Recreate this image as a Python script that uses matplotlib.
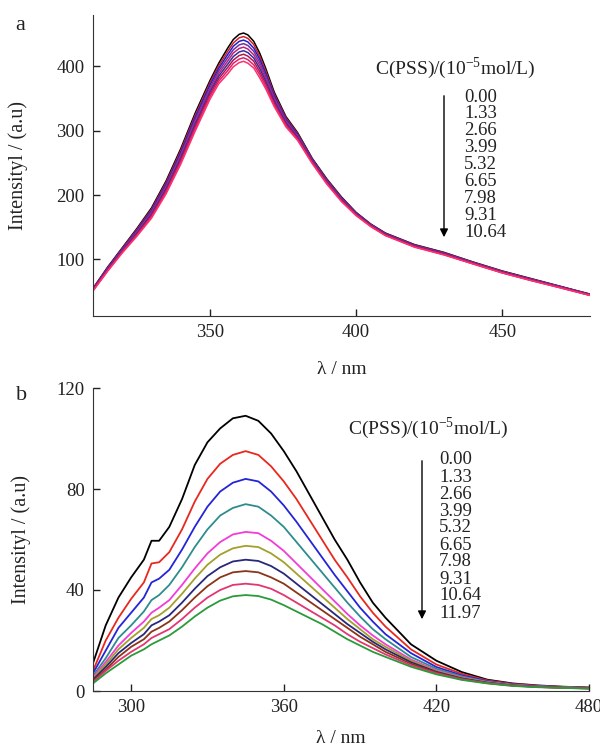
import matplotlib
matplotlib.use("Agg")
import matplotlib.pyplot as plt

plt.rcParams['font.family'] = ['Liberation Serif', 'DejaVu Serif']
plt.rcParams['mathtext.fontset'] = 'custom'
plt.rcParams['mathtext.rm'] = 'Liberation Serif'

# ---- panel a data ----
wl_a = [310, 315, 320, 325, 330, 335, 340, 345, 350, 353, 356, 358, 360, 361.5, 363, 365, 367,
        369, 372, 376, 380, 385, 390, 395, 400, 405, 410, 420, 430, 440, 450, 460, 470, 480]
conc_a = ['0.00', '1.33', '2.66', '3.99', '5.32', '6.65', '7.98', '9.31', '10.64']
int_a0 = [55, 88, 118, 148, 180, 222, 272, 328, 378, 405, 428, 442, 450, 452, 449, 439, 421, 398, 360, 322, 297, 257, 225, 197, 173, 155, 141, 123, 111, 96, 82, 70, 58, 46]
int_a1 = [54.5, 87, 117, 146.5, 178, 219.5, 269, 324.5, 374.5, 401, 423, 436.5, 444.5, 446.5, 443.5, 434, 416, 394, 357, 320, 295.5, 256, 224, 196, 172.5, 154.5, 140.5, 122.5, 110.5, 95.5, 81.5, 69.5, 57.5, 46]
int_a2 = [54, 86.5, 116, 145, 176, 217, 266, 321, 371, 397, 418, 431.5, 439, 441, 438, 428.5, 411.5, 390, 354.5, 318, 294, 255, 223, 195, 172, 154, 140, 122, 110, 95, 81, 69, 57.5, 45.5]
int_a3 = [53.5, 85.5, 115, 143.5, 174, 214.5, 263, 317.5, 367, 393, 413, 426, 433.5, 435.5, 432.5, 423.5, 406.5, 386, 351.5, 316, 292.5, 254, 222, 194.5, 171, 153.5, 139.5, 121.5, 109.5, 95, 81, 69, 57, 45]
int_a4 = [53, 85, 114, 142, 172, 212, 260, 314, 363.5, 389, 408, 421, 428, 430, 427, 418, 402, 382, 349, 314, 291, 253, 221, 193.5, 170.5, 153, 139, 121, 109, 94.5, 80.5, 68.5, 57, 45]
int_a5 = [52.5, 84, 113, 140.5, 170, 209.5, 257, 310.5, 360, 385, 403, 415.5, 422.5, 424.5, 421.5, 413, 397, 378, 346, 312, 289.5, 252, 220, 192.5, 170, 152.5, 138.5, 120.5, 108.5, 94, 80, 68, 56.5, 44.5]
int_a6 = [52, 83, 112, 139, 168, 207, 254, 307, 356.5, 381, 398, 410, 417, 419, 416, 408, 392, 374, 343, 310, 288, 251, 219, 191.5, 169.5, 152, 138, 120, 108, 93.5, 79.5, 67.5, 56, 44.5]
int_a7 = [51.5, 82.5, 111, 137.5, 166, 204.5, 251, 303.5, 353, 377, 393, 405, 411.5, 413.5, 410.5, 402.5, 387.5, 370, 340.5, 308, 286.5, 250, 218, 190.5, 169, 151.5, 137.5, 119.5, 107.5, 93, 79, 67, 56, 44]
int_a8 = [51, 81.5, 110, 136, 164, 202, 248, 300, 349, 373, 388, 399.5, 406, 408, 405, 397.5, 382.5, 366, 337.5, 306, 285, 249, 217, 190, 168, 151, 137, 119, 107, 93, 79, 67, 55.5, 44]
curves_a = [int_a0, int_a1, int_a2, int_a3, int_a4, int_a5, int_a6, int_a7, int_a8]
colors_a = ['black', '#d42020', '#2020c8', '#7030a0', '#c02080', '#3030a0', '#b01850', '#e0206a', '#ff3070']

# ---- panel b data ----
wl_b = [285, 290, 295, 300, 305, 308, 311, 315, 320, 325, 330, 335, 340, 345, 350, 355, 360,
        365, 370, 375, 380, 385, 390, 395, 400, 410, 420, 430, 440, 450, 460, 470, 480]
conc_b = ['0.00', '1.33', '2.66', '3.99', '5.32', '6.65', '7.98', '9.31', '10.64', '11.97']
int_b0 = [11, 26, 37, 45, 52, 59.5, 59.5, 65, 76, 89.5, 98.5, 104, 108, 109, 107, 102, 95, 87, 78, 69, 60, 52, 43, 35, 29, 18.5, 12, 7.5, 4.5, 3, 2.2, 1.7, 1.4]
int_b1 = [8, 20, 29, 36.5, 43, 50.5, 51, 55, 64, 75, 84, 90, 93.5, 95, 93.5, 89, 83, 76, 68, 60, 52, 45, 37.5, 31, 25.5, 16.5, 10.5, 6.8, 4.2, 2.8, 2.1, 1.6, 1.3]
int_b2 = [7, 16, 25, 31, 37, 43, 44.5, 48, 56, 65, 73, 79, 82.5, 84, 83, 79, 73.5, 67, 60, 53, 46, 39.5, 33, 27.5, 22.5, 15, 9.5, 6.2, 3.9, 2.6, 2, 1.5, 1.2]
int_b3 = [6, 13, 21, 26, 31.5, 36, 38, 42, 49, 57, 64, 69.5, 72.5, 74, 73, 69.5, 65, 59, 53, 47, 41, 35, 29.5, 24.5, 20.5, 13.5, 8.8, 5.8, 3.7, 2.5, 1.9, 1.5, 1.2]
int_b4 = [5.5, 11.5, 18, 23, 27.5, 31, 33, 36, 42, 48.5, 54.5, 59, 62, 63, 62.5, 59.5, 55.5, 50.5, 45.5, 40.5, 35.5, 30.5, 26, 22, 18.5, 12.5, 8.2, 5.4, 3.5, 2.4, 1.8, 1.4, 1.1]
int_b5 = [5, 10.5, 16.5, 21, 25, 28.5, 30, 33, 38.5, 44.5, 50, 54, 56.5, 57.5, 57, 54.5, 51, 46.5, 42, 37.5, 33, 28.5, 24.5, 20.5, 17.5, 12, 7.9, 5.2, 3.4, 2.3, 1.7, 1.4, 1.1]
int_b6 = [4.5, 9.5, 15, 19, 22.5, 26, 27.5, 30, 35, 40.5, 45.5, 49, 51.3, 52, 51.5, 49.5, 46.5, 42.5, 38.5, 34.5, 30.5, 26.5, 23, 19.5, 16.5, 11.4, 7.6, 5, 3.3, 2.2, 1.7, 1.3, 1.1]
int_b7 = [4, 8.5, 13.5, 17.5, 20.5, 23.5, 25, 27.5, 32, 37, 41.5, 45, 47, 47.5, 47, 45, 42.5, 39, 35.5, 32, 28.5, 25, 21.5, 18.5, 15.5, 10.8, 7.3, 4.8, 3.2, 2.2, 1.6, 1.3, 1.0]
int_b8 = [3.5, 8, 12, 15.5, 18.5, 21, 22.5, 24.5, 28.5, 33, 37, 40, 42, 42.5, 42, 40.5, 38, 35, 32, 29, 26, 22.5, 19.5, 17, 14.5, 10.2, 7, 4.6, 3.1, 2.1, 1.6, 1.2, 1.0]
int_b9 = [3, 7, 10.5, 14, 16.5, 18.5, 20, 22, 25.5, 29.5, 33, 35.8, 37.5, 38, 37.6, 36.2, 34, 31.5, 29, 26.5, 23.5, 20.5, 18, 15.5, 13.5, 9.6, 6.6, 4.4, 3, 2, 1.5, 1.2, 1.0]
curves_b = [int_b0, int_b1, int_b2, int_b3, int_b4, int_b5, int_b6, int_b7, int_b8, int_b9]
colors_b = ['black', '#e8281e', '#2424d8', '#2e8c8c', '#f23cd8', '#a3a02a', '#28287a', '#8a3418', '#e23672', '#2a9a3a']

W, H = 600, 751


def fx(x):
    return x / W


def fy(y):
    return 1 - y / H


fig = plt.figure(figsize=(6, 7.51), dpi=100)

ax1 = fig.add_axes([fx(93), fy(316), fx(590) - fx(93), fy(15) - fy(316)])
ax2 = fig.add_axes([fx(93), fy(691), fx(589) - fx(93), fy(388) - fy(691)])

for c, col in zip(curves_a, colors_a):
    ax1.plot(wl_a, c, color=col, lw=1.1)
for c, col in zip(curves_b, colors_b):
    ax2.plot(wl_b, c, color=col, lw=1.3)

ax1.set_xlim(310, 480)
ax1.set_ylim(12, 480)
ax1.set_xticks([350, 400, 450])
ax1.set_yticks([100, 200, 300, 400])

ax2.set_xlim(285, 480)
ax2.set_ylim(0, 120)
ax2.set_xticks([300, 360, 420, 480])
ax2.set_yticks([0, 40, 80, 120])

for ax in (ax1, ax2):
    ax.spines['top'].set_visible(False)
    ax.spines['right'].set_visible(False)
    ax.spines['left'].set_color('#333333')
    ax.spines['bottom'].set_color('#333333')
    ax.tick_params(direction='in', length=5, width=1, labelsize=13.5, colors='#222222', pad=6)
    ax.set_ylabel('Intensityl / (a.u)', fontsize=14.5, color='#222222')

ax1.set_xlabel('λ / nm', fontsize=14, color='#222222', labelpad=14)
ax2.set_xlabel('λ / nm', fontsize=14, color='#222222', labelpad=10)

ax1.yaxis.set_label_coords(-0.13, 0.5)
ax2.yaxis.set_label_coords(-0.125, 0.5)

fig.text(fx(20), fy(26), 'a', fontsize=16, ha='center', va='center', color='#222222')
fig.text(fx(22), fy(396), 'b', fontsize=16, ha='center', va='center', color='#222222')

title = 'C(PSS)/(10$^{\\mathrm{-5}}$mol/L)'

# legend a
fig.text(fx(455), fy(68), title, fontsize=14, ha='center', va='center', color='#222222')
for i, s in enumerate(conc_a):
    fig.text(fx(464), fy(97 + 16.9 * i), s, fontsize=13.5, ha='left', va='center', color='#222222')
fig.add_artist(matplotlib.patches.FancyArrowPatch((fx(444), fy(93)), (fx(444), fy(240)),
                                                  transform=fig.transFigure, arrowstyle='-|>',
                                                  mutation_scale=12, color='black', lw=1))

# legend b
fig.text(fx(428), fy(428), title, fontsize=14, ha='center', va='center', color='#222222')
for i, s in enumerate(conc_b):
    fig.text(fx(439), fy(460 + 17.0 * i), s, fontsize=13.5, ha='left', va='center', color='#222222')
fig.add_artist(matplotlib.patches.FancyArrowPatch((fx(422), fy(458)), (fx(422), fy(622)),
                                                  transform=fig.transFigure, arrowstyle='-|>',
                                                  mutation_scale=12, color='black', lw=1))

fig.savefig('out.png', dpi=100)
